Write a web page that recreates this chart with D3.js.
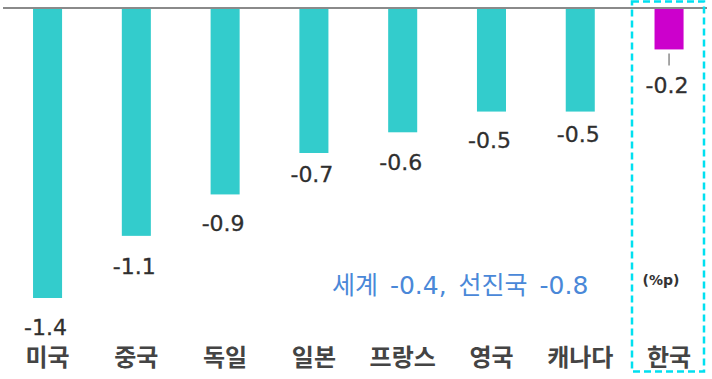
<!DOCTYPE html>
<html><head><meta charset="utf-8">
<script src="https://cdn.jsdelivr.net/npm/d3@7"></script>
<style>body{margin:0;background:#fff}svg{display:block}</style>
</head><body>
<svg id="c" width="712" height="379"></svg>
<script>
const categories = ["미국","중국","독일","일본","프랑스","영국","캐나다","한국"];
const values = [-1.4,-1.1,-0.9,-0.7,-0.6,-0.5,-0.5,-0.2];
const highlight = "한국";
const note = "세계 -0.4, 선진국 -0.8";
const unit = "(%p)";
// label vertical offsets below bar ends (layout)
const labelDy = [29,31,29,21,30,29,23,36];

const svg = d3.select("#c");
const x = d3.scaleBand().domain(categories).range([6.4, 710.2]).paddingInner(0.673).paddingOuter(0.3);
const y = d3.scaleLinear().domain([0,-1.4]).range([8,298]);

const teal = "#33CCCC", mag = "#CC00CC", txt = "#2f2f2f";

svg.selectAll("rect.bar").data(values).enter().append("rect")
  .attr("class","bar")
  .attr("x",(d,i)=>x(categories[i]))
  .attr("width",x.bandwidth())
  .attr("y",y(0))
  .attr("height",d=>y(d)-y(0))
  .attr("fill",(d,i)=>categories[i]===highlight?mag:teal);

svg.append("line").attr("x1",3).attr("x2",707).attr("y1",y(0)).attr("y2",y(0))
  .attr("stroke","#8a8a8a").attr("stroke-width",2);

// leader line for highlight
const hi = categories.indexOf(highlight);
const hx = x(highlight)+x.bandwidth()/2;
svg.append("line").attr("x1",hx).attr("x2",hx).attr("y1",y(values[hi])+4).attr("y2",y(values[hi])+16)
  .attr("stroke","#8a8a8a").attr("stroke-width",1.5);

svg.selectAll("text.val").data(values).enter().append("text")
  .attr("class","val")
  .attr("x",(d,i)=>x(categories[i])+x.bandwidth()/2-2)
  .attr("y",(d,i)=>y(d)+labelDy[i])
  .attr("text-anchor","middle").attr("dominant-baseline","central")
  .attr("font-family","'DejaVu Sans',sans-serif").attr("font-size",22)
  .attr("fill",txt).attr("stroke",txt).attr("stroke-width",0.3)
  .text(d=>d.toFixed(1));

svg.selectAll("text.cat").data(categories).enter().append("text")
  .attr("class","cat")
  .attr("x",d=>x(d)+x.bandwidth()/2)
  .attr("y",355)
  .attr("text-anchor","middle").attr("dominant-baseline","central")
  .attr("font-family","'Noto Sans CJK KR',sans-serif").attr("font-size",24).attr("font-weight","bold")
  .attr("fill","#444")
  .text(d=>d);

svg.append("text").attr("x",332).attr("y",285)
  .attr("text-anchor","start").attr("dominant-baseline","central")
  .attr("font-family","'DejaVu Sans','Noto Sans CJK KR',sans-serif").attr("font-size",25)
  .attr("word-spacing",4)
  .attr("fill","#4a88d8").text(note);

svg.append("text").attr("x",661).attr("y",280)
  .attr("text-anchor","middle").attr("dominant-baseline","central")
  .attr("font-family","'DejaVu Sans',sans-serif").attr("font-size",14).attr("font-weight","bold")
  .attr("fill","#333").text(unit);

// dashed highlight box
svg.append("rect").attr("x",632).attr("y",1.5).attr("width",72).attr("height",370)
  .attr("fill","none").attr("stroke","#00E0F0").attr("stroke-width",2.5)
  .attr("stroke-dasharray","7,4");
</script>
</body></html>
